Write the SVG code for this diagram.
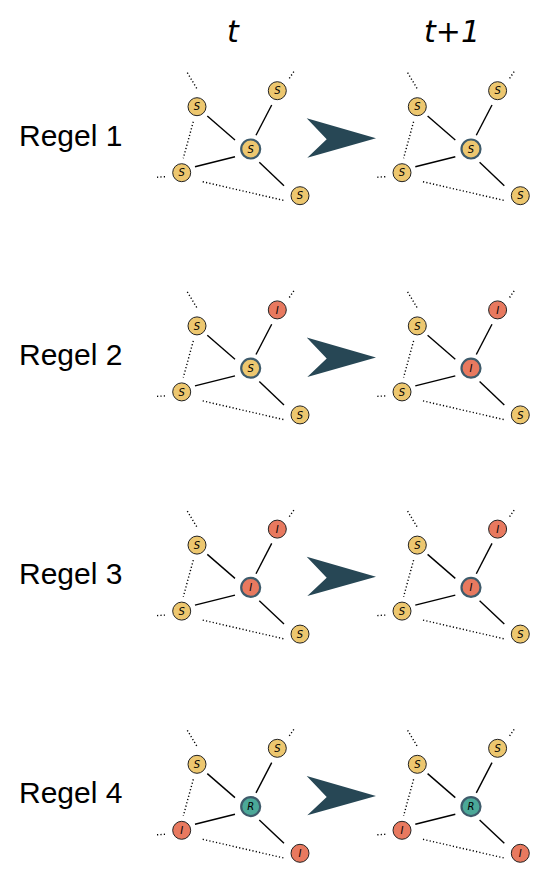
<svg xmlns="http://www.w3.org/2000/svg" xmlns:xlink="http://www.w3.org/1999/xlink" width="550" height="883" viewBox="0 0 550 883">
<style>
.bg{fill:#ffffff}
.rule{font-family:"Liberation Sans",Arial,sans-serif;font-size:30px;fill:#000}
.head{font-family:"DejaVu Sans",sans-serif;font-style:italic;font-size:30px;fill:#000;text-anchor:middle}
.edge{stroke:#000;stroke-width:1.4;fill:none}
.dot{stroke:#000;stroke-width:1.4;fill:none;stroke-dasharray:1.2 2.2}
.n{stroke:#222;stroke-width:1}
.c{stroke:#3E5B6B;stroke-width:2.2}
.S{fill:#EDC76F}
.I{fill:#E8795F}
.R{fill:#4BA898}
.lbl{font-family:"DejaVu Sans",sans-serif;font-style:italic;font-size:10px;fill:#000;text-anchor:middle}
.arrow{fill:#274755}
</style>
<defs>
<g id="links">
<line class="edge" x1="-43.4" y1="-33" x2="-15.7" y2="-9"/>
<line class="edge" x1="21" y1="-44" x2="5.3" y2="-13.7"/>
<line class="edge" x1="-55.7" y1="17.7" x2="-15.7" y2="7.7"/>
<line class="edge" x1="8.6" y1="13.3" x2="33.3" y2="36.7"/>
<line class="dot" x1="-54" y1="-60.7" x2="-63.4" y2="-76.3"/>
<line class="dot" x1="38.6" y1="-70.7" x2="44.3" y2="-79"/>
<line class="dot" x1="-57.4" y1="-27.3" x2="-67.4" y2="9.3"/>
<line class="dot" x1="-85.7" y1="27.7" x2="-95.7" y2="28.3"/>
<line class="dot" x1="-48" y1="32.7" x2="34.3" y2="51.7"/>
</g>
</defs>
<rect class="bg" x="0" y="0" width="550" height="883"/>
<text class="head" x="233" y="42">t</text>
<text class="head" x="452" y="42">t+1</text>
<text class="rule" x="19" y="146">Regel 1</text>
<text class="rule" x="19" y="365">Regel 2</text>
<text class="rule" x="19" y="584">Regel 3</text>
<text class="rule" x="19" y="803">Regel 4</text>

<g id="connectors">
<use xlink:href="#links" transform="translate(250.7,149)"/>
<use xlink:href="#links" transform="translate(471,149)"/>
<use xlink:href="#links" transform="translate(250.7,368.2)"/>
<use xlink:href="#links" transform="translate(471,368.2)"/>
<use xlink:href="#links" transform="translate(250.7,587.4)"/>
<use xlink:href="#links" transform="translate(471,587.4)"/>
<use xlink:href="#links" transform="translate(250.7,806.6)"/>
<use xlink:href="#links" transform="translate(471,806.6)"/>
<path class="arrow" d="M306.7,118.3 L376,138.3 L307.3,157.7 L326.7,139.3 Z"/>
<path class="arrow" d="M306.7,337.5 L376,357.5 L307.3,376.9 L326.7,358.5 Z"/>
<path class="arrow" d="M306.7,556.7 L376,576.7 L307.3,596.1 L326.7,577.7 Z"/>
<path class="arrow" d="M306.7,775.9 L376,795.9 L307.3,815.3 L326.7,796.9 Z"/>
</g>

<!-- Rule 1 left -->
<g id="r1L-tl" transform="translate(197,106.7)"><circle class="n S" r="9"/><text class="lbl" y="3.6">S</text></g>
<g id="r1L-tr" transform="translate(277.3,90.7)"><circle class="n S" r="9"/><text class="lbl" y="3.6">S</text></g>
<g id="r1L-c" transform="translate(250.7,149)"><circle class="c S" r="9.5"/><text class="lbl" y="3.6">S</text></g>
<g id="r1L-bl" transform="translate(181.7,172.7)"><circle class="n S" r="9"/><text class="lbl" y="3.6">S</text></g>
<g id="r1L-br" transform="translate(300,195.7)"><circle class="n S" r="9"/><text class="lbl" y="3.6">S</text></g>
<!-- Rule 1 right -->
<g id="r1R-tl" transform="translate(417.3,106.7)"><circle class="n S" r="9"/><text class="lbl" y="3.6">S</text></g>
<g id="r1R-tr" transform="translate(497.6,90.7)"><circle class="n S" r="9"/><text class="lbl" y="3.6">S</text></g>
<g id="r1R-c" transform="translate(471,149)"><circle class="c S" r="9.5"/><text class="lbl" y="3.6">S</text></g>
<g id="r1R-bl" transform="translate(402,172.7)"><circle class="n S" r="9"/><text class="lbl" y="3.6">S</text></g>
<g id="r1R-br" transform="translate(520.3,195.7)"><circle class="n S" r="9"/><text class="lbl" y="3.6">S</text></g>

<!-- Rule 2 left -->
<g id="r2L-tl" transform="translate(197,325.9)"><circle class="n S" r="9"/><text class="lbl" y="3.6">S</text></g>
<g id="r2L-tr" transform="translate(277.3,309.9)"><circle class="n I" r="9"/><text class="lbl" y="3.6">I</text></g>
<g id="r2L-c" transform="translate(250.7,368.2)"><circle class="c S" r="9.5"/><text class="lbl" y="3.6">S</text></g>
<g id="r2L-bl" transform="translate(181.7,391.9)"><circle class="n S" r="9"/><text class="lbl" y="3.6">S</text></g>
<g id="r2L-br" transform="translate(300,414.9)"><circle class="n S" r="9"/><text class="lbl" y="3.6">S</text></g>
<!-- Rule 2 right -->
<g id="r2R-tl" transform="translate(417.3,325.9)"><circle class="n S" r="9"/><text class="lbl" y="3.6">S</text></g>
<g id="r2R-tr" transform="translate(497.6,309.9)"><circle class="n I" r="9"/><text class="lbl" y="3.6">I</text></g>
<g id="r2R-c" transform="translate(471,368.2)"><circle class="c I" r="9.5"/><text class="lbl" y="3.6">I</text></g>
<g id="r2R-bl" transform="translate(402,391.9)"><circle class="n S" r="9"/><text class="lbl" y="3.6">S</text></g>
<g id="r2R-br" transform="translate(520.3,414.9)"><circle class="n S" r="9"/><text class="lbl" y="3.6">S</text></g>

<!-- Rule 3 left -->
<g id="r3L-tl" transform="translate(197,545.1)"><circle class="n S" r="9"/><text class="lbl" y="3.6">S</text></g>
<g id="r3L-tr" transform="translate(277.3,529.1)"><circle class="n I" r="9"/><text class="lbl" y="3.6">I</text></g>
<g id="r3L-c" transform="translate(250.7,587.4)"><circle class="c I" r="9.5"/><text class="lbl" y="3.6">I</text></g>
<g id="r3L-bl" transform="translate(181.7,611.1)"><circle class="n S" r="9"/><text class="lbl" y="3.6">S</text></g>
<g id="r3L-br" transform="translate(300,634.1)"><circle class="n S" r="9"/><text class="lbl" y="3.6">S</text></g>
<!-- Rule 3 right -->
<g id="r3R-tl" transform="translate(417.3,545.1)"><circle class="n S" r="9"/><text class="lbl" y="3.6">S</text></g>
<g id="r3R-tr" transform="translate(497.6,529.1)"><circle class="n I" r="9"/><text class="lbl" y="3.6">I</text></g>
<g id="r3R-c" transform="translate(471,587.4)"><circle class="c I" r="9.5"/><text class="lbl" y="3.6">I</text></g>
<g id="r3R-bl" transform="translate(402,611.1)"><circle class="n S" r="9"/><text class="lbl" y="3.6">S</text></g>
<g id="r3R-br" transform="translate(520.3,634.1)"><circle class="n S" r="9"/><text class="lbl" y="3.6">S</text></g>

<!-- Rule 4 left -->
<g id="r4L-tl" transform="translate(197,764.3)"><circle class="n S" r="9"/><text class="lbl" y="3.6">S</text></g>
<g id="r4L-tr" transform="translate(277.3,748.3)"><circle class="n S" r="9"/><text class="lbl" y="3.6">S</text></g>
<g id="r4L-c" transform="translate(250.7,806.6)"><circle class="c R" r="9.5"/><text class="lbl" y="3.6">R</text></g>
<g id="r4L-bl" transform="translate(181.7,830.3)"><circle class="n I" r="9"/><text class="lbl" y="3.6">I</text></g>
<g id="r4L-br" transform="translate(300,853.3)"><circle class="n I" r="9"/><text class="lbl" y="3.6">I</text></g>
<!-- Rule 4 right -->
<g id="r4R-tl" transform="translate(417.3,764.3)"><circle class="n S" r="9"/><text class="lbl" y="3.6">S</text></g>
<g id="r4R-tr" transform="translate(497.6,748.3)"><circle class="n S" r="9"/><text class="lbl" y="3.6">S</text></g>
<g id="r4R-c" transform="translate(471,806.6)"><circle class="c R" r="9.5"/><text class="lbl" y="3.6">R</text></g>
<g id="r4R-bl" transform="translate(402,830.3)"><circle class="n I" r="9"/><text class="lbl" y="3.6">I</text></g>
<g id="r4R-br" transform="translate(520.3,853.3)"><circle class="n I" r="9"/><text class="lbl" y="3.6">I</text></g>
</svg>
